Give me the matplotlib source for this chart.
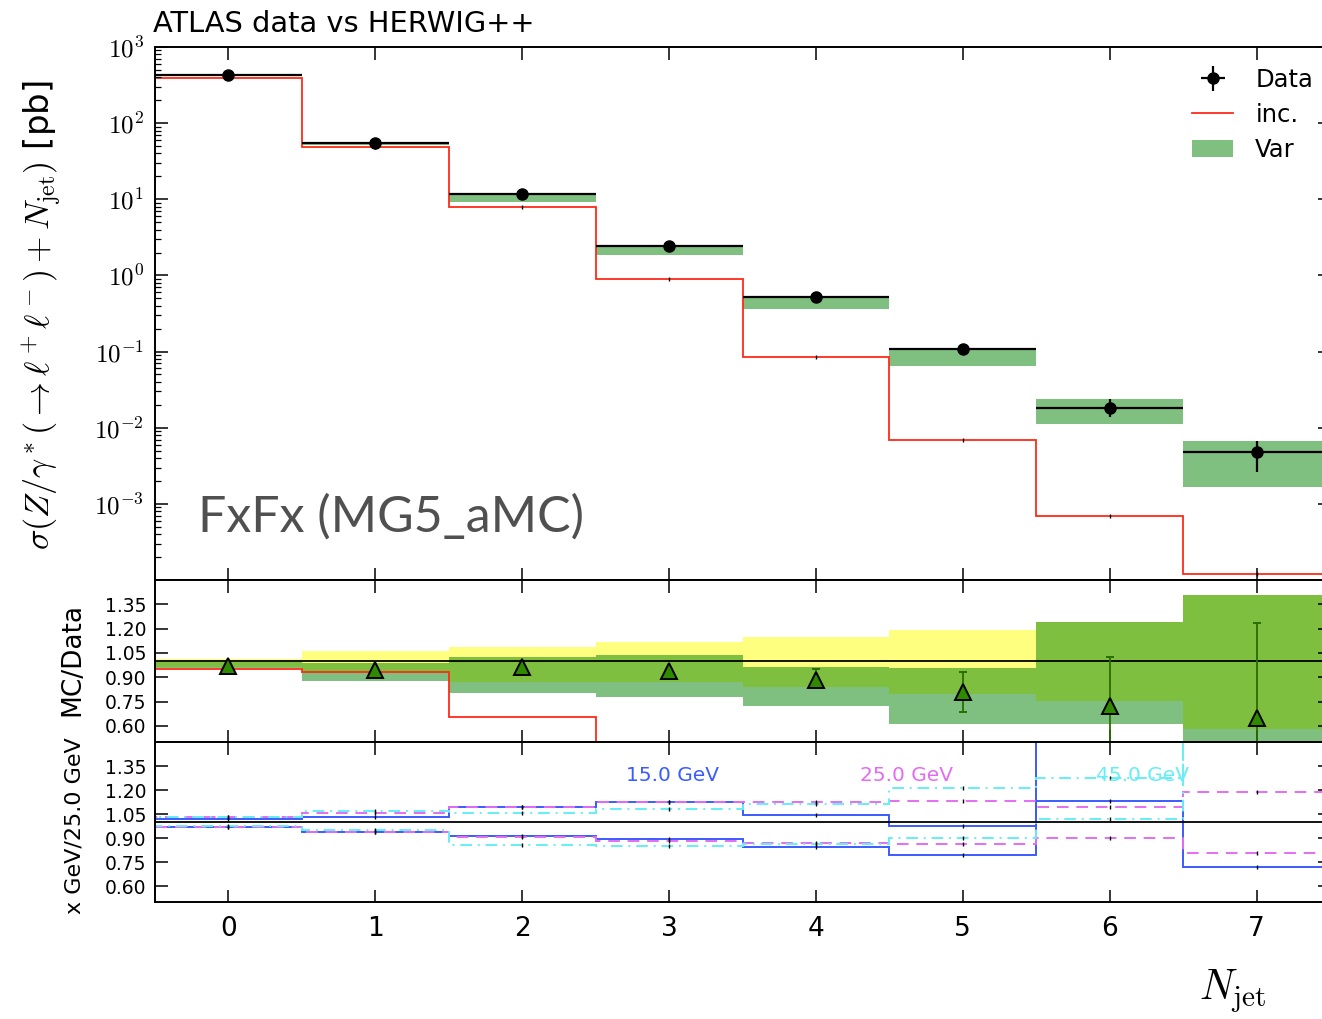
import numpy as np
import matplotlib
matplotlib.use("Agg")
import matplotlib.pyplot as plt
from matplotlib.ticker import FixedLocator, LogLocator, NullFormatter, FixedFormatter

plt.rcParams['mathtext.fontset'] = 'cm'
plt.rcParams['font.family'] = ['DejaVu Sans']

# ---------------- data ----------------
njet = [0, 1, 2, 3, 4, 5, 6, 7]
edges = [-0.5, 0.5, 1.5, 2.5, 3.5, 4.5, 5.5, 6.5, 7.5]

data_val = [428, 54.5, 11.9, 2.43, 0.514, 0.107, 0.0182, 0.00477]
data_up = [440, 56.0, 12.3, 2.50, 0.53, 0.112, 0.0235, 0.00671]
data_dn = [416, 53.0, 11.5, 2.36, 0.50, 0.102, 0.0139, 0.00262]

inc_val = [395, 49.0, 7.98, 0.885, 0.085, 0.0070, 0.000687, 0.000119]

var_hi = [435, 56.0, 12.2, 2.45, 0.514, 0.104, 0.0235, 0.00671]
var_lo = [410, 52.0, 9.27, 1.85, 0.357, 0.0643, 0.0111, 0.00167]

# ratio panel (MC/Data)
ratio_inc = [0.951, 0.934, 0.654, 0.36, 0.17, 0.066, 0.038, 0.025]
ratio_pts = [0.967, 0.947, 0.963, 0.940, 0.883, 0.806, 0.722, 0.650]
ratio_pts_hi = [0.975, 0.955, 0.970, 0.948, 0.949, 0.934, 1.023, 1.233]
ratio_pts_lo = [0.960, 0.940, 0.956, 0.932, 0.831, 0.687, 0.30, 0.20]
yellow_hi = [1.012, 1.062, 1.088, 1.117, 1.146, 1.191, 1.243, 1.407]
yellow_lo = [0.965, 0.926, 0.872, 0.872, 0.837, 0.796, 0.755, 0.578]
green_hi = [0.995, 0.990, 1.027, 1.037, 0.961, 0.955, 1.243, 1.407]
green_lo = [0.955, 0.877, 0.800, 0.776, 0.722, 0.611, 0.611, 0.45]

# bottom panel (x GeV / 25.0 GeV)
blue_up = [1.017, 1.029, 1.096, 1.123, 1.042, 0.977, 1.133, 0.721]
blue_dn = [0.967, 0.940, 0.912, 0.892, 0.845, 0.796, 1.60, 1.60]
mag_up = [1.029, 1.058, 1.096, 1.123, 1.123, 1.133, 1.096, 1.185]
mag_dn = [0.967, 0.940, 0.904, 0.883, 0.870, 0.860, 0.898, 0.808]
cyan_up = [1.033, 1.071, 1.058, 1.083, 1.113, 1.210, 1.273, 1.60]
cyan_dn = [0.975, 0.950, 0.858, 0.850, 0.865, 0.898, 1.017, 1.60]

scale_labels = ['15.0 GeV', '25.0 GeV', '45.0 GeV']

# ---------------- figure ----------------
W, H = 1322, 1019
fig = plt.figure(figsize=(W / 100, H / 100), dpi=100)

def ax_at(x0, y0, x1, y1):
    return fig.add_axes([x0 / W, 1 - y1 / H, (x1 - x0) / W, (y1 - y0) / H])

xl, xr = 155, 1330
ax1 = ax_at(xl, 47, xr, 580)
ax2 = ax_at(xl, 580, xr, 742)
ax3 = ax_at(xl, 742, xr, 902)

c_blue = '#3a5cff'
c_mag = '#e46cf2'
c_cyan = '#66eef6'

for ax in (ax1, ax2, ax3):
    ax.set_xlim(-0.5, 7.5)
    ax.xaxis.set_major_locator(FixedLocator(njet))
    ax.tick_params(which='major', direction='in', top=True, right=True,
                   length=9, width=1.1)
    ax.tick_params(which='minor', direction='in', top=True, right=True,
                   length=4.5, width=0.9)
    for s in ax.spines.values():
        s.set_linewidth(1.4)
    ax.set_axisbelow(False)

# ---- top panel ----
ax1.set_yscale('log')
ax1.set_ylim(1e-4, 1e3)
ax1.stairs(var_hi, edges, baseline=var_lo, fill=True, color='#008000',
           alpha=0.5, lw=0, label='Var')
ax1.stairs(inc_val, edges, color='#ff2a1a', lw=1.3, label='inc.')
ax1.plot(njet, inc_val, ls='none', marker='|', ms=3, color='k', mew=1)
yerr = [np.array(data_val) - np.array(data_dn), np.array(data_up) - np.array(data_val)]
ax1.errorbar(njet, data_val, yerr=yerr, xerr=0.5, fmt='o', color='k',
             ms=8, elinewidth=1.6, capsize=0, label='Data', zorder=5)
ax1.yaxis.set_major_locator(FixedLocator([1e-4, 1e-3, 1e-2, 1e-1, 1, 10, 100, 1000]))
ax1.yaxis.set_major_formatter(FixedFormatter(
    ['', r'$10^{-3}$', r'$10^{-2}$', r'$10^{-1}$', r'$10^{0}$', r'$10^{1}$',
     r'$10^{2}$', r'$10^{3}$']))
ax1.yaxis.set_minor_locator(LogLocator(base=10, subs=np.arange(2, 10), numticks=20))
ax1.yaxis.set_minor_formatter(NullFormatter())
ax1.tick_params(axis='y', labelsize=18, pad=8)
ax1.tick_params(axis='x', labelbottom=False)

h, l = ax1.get_legend_handles_labels()
order = [l.index('Data'), l.index('inc.'), l.index('Var')]
ax1.legend([h[i] for i in order], [l[i] for i in order], loc='upper right',
           bbox_to_anchor=(1335 / W, 1 - 46 / H), bbox_transform=fig.transFigure,
           frameon=False, fontsize=17.5, handlelength=1.7, handletextpad=0.9,
           labelspacing=0.45)

ax1.text(198 / W, 1 - 532 / H, 'FxFx (MG5_aMC)', transform=fig.transFigure,
         fontsize=36, color='#505050', family='Lato', va='baseline', ha='left')

# ---- ratio panel ----
ax2.set_ylim(0.5, 1.5)
ax2.stairs(yellow_hi, edges, baseline=yellow_lo, fill=True, color='#ffff00',
           alpha=0.5, lw=0)
ax2.stairs(green_hi, edges, baseline=green_lo, fill=True, color='#008000',
           alpha=0.5, lw=0)
ax2.stairs(ratio_inc, edges, color='#ff2a1a', lw=1.3)
ax2.axhline(1.0, color='k', lw=1.3)
rerr = [np.array(ratio_pts) - np.array(ratio_pts_lo),
        np.array(ratio_pts_hi) - np.array(ratio_pts)]
ax2.errorbar(njet, ratio_pts, yerr=rerr, fmt='^', mfc='#2f8a00', mec='k',
             mew=1.4, ms=11, ecolor='#2a6e00', elinewidth=1.3, capsize=3,
             zorder=5)

# ---- bottom panel ----
ax3.set_ylim(0.5, 1.5)
ax3.axhline(1.0, color='k', lw=1.3)
for up, dn, col, ls in ((blue_up, blue_dn, c_blue, '-'),
                        (mag_up, mag_dn, c_mag, (0, (6, 4))),
                        (cyan_up, cyan_dn, c_cyan, (0, (6, 3, 1, 3)))):
    ax3.stairs(up, edges, color=col, lw=1.4, linestyle=ls)
    ax3.stairs(dn, edges, color=col, lw=1.4, linestyle=ls)
    ax3.plot(njet, up, ls='none', marker='|', ms=3, color='k', mew=1)
    ax3.plot(njet, dn, ls='none', marker='|', ms=3, color='k', mew=1)
for txt, xpos, col in zip(scale_labels, [3.02, 4.62, 6.22], [c_blue, c_mag, c_cyan]):
    ax3.text(xpos, 1.29, txt, color=col, fontsize=14.5, ha='center', va='center')

rticks = [0.60, 0.75, 0.90, 1.05, 1.20, 1.35]
for ax in (ax2, ax3):
    ax.yaxis.set_major_locator(FixedLocator(rticks))
    ax.yaxis.set_major_formatter(FixedFormatter(['%.2f' % t for t in rticks]))
    ax.tick_params(axis='y', labelsize=13.5, pad=6)
ax2.tick_params(axis='x', labelbottom=False)
ax3.tick_params(axis='x', labelsize=19, pad=10)

# ---- labels ----
fig.text(153 / W, 1 - 32 / H, 'ATLAS data vs HERWIG++', fontsize=20.8,
         ha='left', va='baseline')
fig.text(42 / W, 1 - 315 / H,
         r'$\sigma(Z/\gamma^*(\to\ell^+\ell^-)+N_{\rm jet})$ [pb]',
         rotation=90, fontsize=24.5, ha='center', va='center')
fig.text(72 / W, 1 - 660 / H, 'MC/Data', rotation=90, fontsize=19,
         ha='center', va='center')
fig.text(74 / W, 1 - 826 / H, 'x GeV/25.0 GeV', rotation=90, fontsize=16,
         ha='center', va='center')
fig.text(1233 / W, 1 - 1000 / H, r'$N_{\rm jet}$', fontsize=30,
         ha='center', va='baseline')

fig.savefig('out.png', dpi=100)
